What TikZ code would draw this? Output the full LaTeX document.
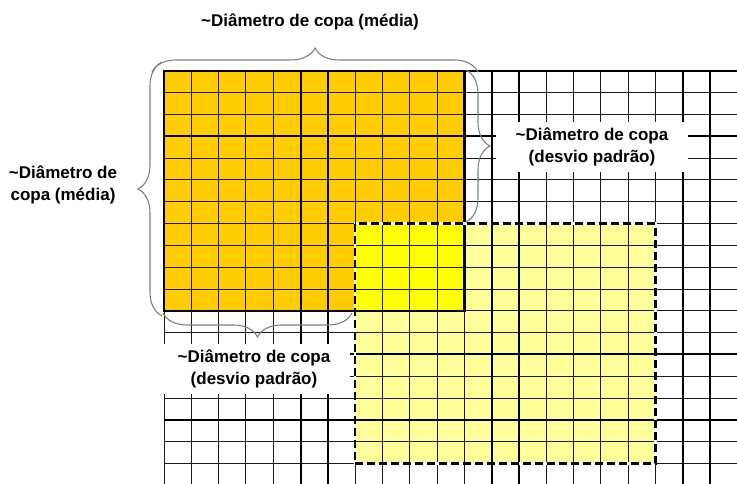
\documentclass[tikz,border=0pt]{standalone}
\usepackage{fontspec}
\setmainfont{Liberation Sans}
\usepackage{tikz}
\usetikzlibrary{decorations.pathreplacing, positioning}
\definecolor{copaorange}{HTML}{FFCC00}
\definecolor{copayellow}{HTML}{FFFF00}
\definecolor{copapale}{HTML}{FFFF99}
\definecolor{bracegray}{HTML}{7F7F7F}

\begin{document}
\begin{tikzpicture}[x=1pt, y=-1pt,
    txt/.style={font=\fontsize{17}{22}\selectfont\bfseries, align=center, inner sep=0pt},
    whitebox/.style={txt, fill=white, minimum width=192pt, minimum height=50pt},
    gridthin/.style={line width=1pt, black!90},
    gridthick/.style={line width=2pt, black},
    crown/.style={line width=2.5pt, black},
    spread/.style={line width=2.5pt, black, dash pattern=on 8pt off 4pt},
    curly/.style={decorate, decoration={brace, amplitude=24pt}, bracegray, line width=1.1pt}
]
\useasboundingbox (0,0) rectangle (737,484);

% grid in cells of 27.3 x 21.8
\begin{scope}[shift={(164,71)}, x=27.3pt, y=-21.8pt]
  \fill[copaorange] (0,0) rectangle (11,11);
  \fill[copapale] (7,7) rectangle (18,18);
  \fill[copayellow] (7,7) rectangle (11,11);
  \begin{scope}
    \clip (0,0) rectangle (20.99,18.94);
    \foreach \i in {0,...,21}
      \draw[gridthin] (\i,0) -- (\i,19.2);
    \foreach \j in {0,...,19}
      \draw[gridthin] (0,\j) -- (21.2,\j);
    \foreach \i in {5,6,12,13,19,20}
      \draw[gridthick] (\i,0) -- (\i,19.2);
    \foreach \j in {0,3,13,16}
      \draw[gridthick] (0,\j) -- (21.2,\j);
  \end{scope}
  \draw[crown] (0,0) rectangle (11,11);
  \draw[white, line width=2.5pt] (7,7) rectangle (18,18);
  \draw[spread] (7,7) rectangle (18,18);
\end{scope}

% labels
\node[txt] (topmean) at (310,22) {\textasciitilde Diâmetro de copa (média)};
\node[txt] (leftmean) at (63,185) {\textasciitilde Diâmetro de\\copa (média)};
\node[whitebox] (rightsd) at (592,147) {\textasciitilde Diâmetro de copa\\(desvio padrão)};
\node[whitebox] (bottomsd) at (254,369) {\textasciitilde Diâmetro de copa\\(desvio padrão)};

% braces
\coordinate (topA) at (152,72);
\coordinate (topB) at (478,72);
\coordinate (leftA) at (162,316);
\coordinate (leftB) at (162,62);
\coordinate (rightA) at (466,70);
\coordinate (rightB) at (466,222);
\coordinate (botA) at (352,313);
\coordinate (botB) at (163,313);
\draw[curly] (topA) -- (topB);
\draw[curly] (leftA) -- (leftB);
\draw[curly] (rightA) -- (rightB);
\draw[curly] (botA) -- (botB);

\end{tikzpicture}
\end{document}
